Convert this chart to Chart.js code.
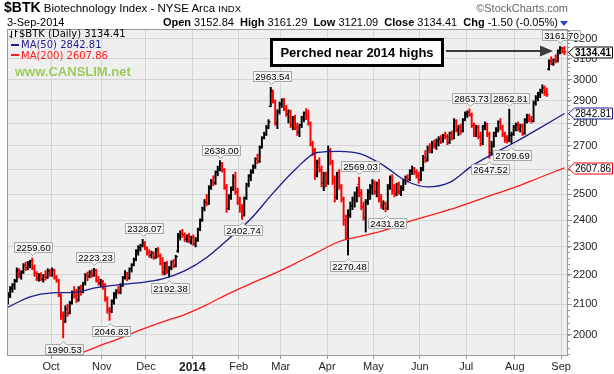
<!DOCTYPE html>
<html>
<head>
<meta charset="utf-8">
<script src="https://cdn.jsdelivr.net/npm/chart.js"></script>
<style>
body { margin: 0; background: #fff; font-family: "Liberation Sans", Arial, sans-serif; }
#wrap { position: relative; width: 614px; height: 374px; overflow: hidden; }
#chart { position: absolute; left: 0; top: 0; }
.t { position: absolute; white-space: nowrap; }
.lg { font-family: "DejaVu Sans", Verdana, sans-serif; font-size: 10px; line-height: 12px; }
</style>
</head>
<body>
<div id="wrap">
<canvas id="chart" width="614" height="374"></canvas>
<div class="t" style="left:4px;top:0px;font-size:11.5px;line-height:14px;color:#000"><b style="font-size:14px">$BTK</b> Biotechnology Index - NYSE Arca <span style="font-size:9.5px">INDX</span></div>
<div class="t" style="right:46px;top:2px;font-size:11px;line-height:13px;color:#666">&copy;StockCharts.com</div>
<div class="t" style="left:7px;top:16px;font-size:11px;line-height:13px">3-Sep-2014</div>
<div class="t" style="right:56px;top:16px;font-size:11px;line-height:13px"><b>Open</b> 3152.84&nbsp; <b>High</b> 3161.29&nbsp; <b>Low</b> 3121.09&nbsp; <b>Close</b> 3134.41&nbsp; <b>Chg</b> -1.50 (-0.05%)</div>
<div class="t" style="left:560px;top:21px;width:0;height:0;border-left:4px solid transparent;border-right:4px solid transparent;border-top:5px solid #2244dd"></div>
<div class="t lg" style="left:19px;top:28px;color:#000">$BTK (Daily) 3134.41</div>
<div class="t" style="left:11px;top:44px;width:8px;height:2px;background:#1c1c8c"></div>
<div class="t lg" style="left:21px;top:39px;color:#1c1c8c">MA(50) 2842.81</div>
<div class="t" style="left:11px;top:54px;width:8px;height:2px;background:#ff1a1a"></div>
<div class="t lg" style="left:21px;top:49.5px;color:#ff1a1a">MA(200) 2607.86</div>
<div class="t" style="left:15px;top:64px;font-size:13px;line-height:15px;font-weight:bold;color:#9ccc5a">www.CANSLIM.net</div>
<div class="t" style="left:270px;top:38px;width:174px;height:29px;box-sizing:border-box;border:3px solid #000;background:#fff;font-size:13px;font-weight:bold;display:flex;align-items:center;justify-content:center">Perched near 2014 highs</div>
</div>
<script>
// daily bars, 3-Sep-2013 .. 3-Sep-2014 (bar index 0..252)
var opens = [
 2105,2130,2152,2165,2180,2212,2200,2212,2232,2225,
 2240,2250,2225,2205,2188,2198,2185,2195,2192,2212,
 2200,2215,2190,2180,2128,2060,2045,2085,2072,2105,
 2140,2128,2115,2155,2142,2170,2198,2195,2210,2200,
 2215,2180,2172,2178,2160,2118,2080,2078,2110,2135,
 2145,2140,2165,2190,2205,2190,2222,2235,2255,2285,
 2298,2305,2315,2298,2280,2270,2278,2262,2290,2268,
 2240,2210,2240,2215,2225,2245,2232,2285,2340,2350,
 2345,2328,2340,2320,2335,2312,2325,2365,2400,2445,
 2470,2465,2530,2550,2545,2590,2605,2620,2600,2530,
 2445,2490,2520,2570,2510,2470,2445,2420,2485,2540,
 2575,2590,2612,2645,2635,2695,2735,2750,2780,2875,
 2945,2895,2800,2850,2885,2905,2865,2840,2850,2790,
 2820,2780,2760,2790,2825,2845,2830,2800,2710,2680,
 2580,2630,2600,2545,2580,2545,2680,2630,2560,2490,
 2570,2530,2480,2400,2330,2420,2455,2480,2500,2540,
 2505,2450,2410,2470,2510,2530,2545,2510,2540,2480,
 2455,2465,2445,2530,2565,2515,2500,2540,2510,2525,
 2555,2570,2560,2595,2605,2590,2575,2560,2600,2650,
 2640,2690,2680,2710,2700,2720,2730,2720,2745,2740,
 2715,2755,2735,2810,2770,2780,2765,2815,2840,2850,
 2835,2790,2750,2780,2740,2710,2785,2795,2750,2670,
 2700,2755,2770,2805,2780,2750,2730,2725,2745,2750,
 2780,2790,2775,2785,2755,2815,2830,2815,2810,2890,
 2915,2930,2945,2960,2940,3050,3088,3075,3095,3090,
 3140,3155,3152.84];
var highs = [
 2140,2160,2170,2185,2225,2222,2215,2240,2245,2248,
 2252,2259.6,2235,2212,2205,2208,2202,2215,2222,2220,
 2225,2220,2198,2185,2135,2075,2095,2100,2110,2145,
 2160,2150,2160,2165,2175,2205,2210,2215,2218,2223.23,
 2220,2195,2185,2182,2170,2125,2090,2115,2140,2150,
 2160,2170,2195,2215,2210,2225,2240,2260,2290,2305,
 2310,2328.07,2320,2300,2290,2285,2282,2295,2298,2275,
 2262,2245,2248,2230,2250,2255,2270,2350,2360,2365,
 2352,2345,2350,2340,2345,2335,2370,2405,2450,2480,
 2500,2535,2560,2575,2595,2615,2638,2630,2605,2540,
 2500,2530,2580,2590,2525,2490,2460,2490,2545,2580,
 2600,2620,2650,2665,2700,2740,2760,2790,2815,2963.54,
 2950,2905,2860,2895,2910,2912,2880,2860,2858,2830,
 2835,2800,2795,2830,2850,2865,2858,2805,2720,2690,
 2640,2650,2615,2590,2590,2700,2690,2640,2575,2590,
 2600,2540,2490,2420,2440,2470,2490,2510,2530,2569.03,
 2520,2470,2480,2520,2540,2560,2555,2550,2560,2500,
 2475,2470,2540,2575,2580,2540,2545,2550,2535,2560,
 2575,2580,2600,2615,2610,2600,2590,2610,2660,2680,
 2700,2710,2720,2725,2730,2740,2745,2750,2760,2750,
 2760,2765,2820,2815,2790,2795,2820,2850,2855,2863.73,
 2845,2800,2790,2790,2760,2790,2805,2800,2760,2720,
 2760,2780,2810,2820,2790,2760,2745,2862.81,2760,2790,
 2800,2805,2795,2795,2820,2840,2840,2830,2900,2925,
 2940,2955,2975,2970,2960,3095,3110,3100,3120,3145,
 3161.7,3158,3161.29];
var lows = [
 2100,2122,2140,2150,2175,2190,2185,2205,2215,2218,
 2225,2218,2195,2180,2178,2180,2175,2182,2188,2195,
 2195,2185,2175,2125,2050,1990.53,2040,2060,2068,2100,
 2120,2105,2110,2130,2138,2165,2180,2190,2192,2195,
 2175,2165,2160,2150,2110,2070,2046.83,2072,2100,2120,
 2135,2135,2160,2185,2180,2185,2210,2232,2250,2270,
 2285,2300,2290,2270,2262,2260,2255,2258,2262,2235,
 2200,2200,2205,2192.38,2218,2225,2228,2280,2325,2335,
 2320,2318,2315,2310,2305,2300,2320,2360,2395,2435,
 2455,2460,2520,2535,2540,2575,2595,2590,2520,2430,
 2440,2480,2515,2500,2460,2430,2402.74,2415,2480,2530,
 2555,2585,2605,2625,2630,2690,2730,2745,2775,2873,
 2890,2790,2775,2840,2870,2855,2830,2800,2780,2770,
 2770,2745,2740,2780,2805,2815,2790,2700,2660,2560,
 2570,2590,2530,2515,2530,2540,2620,2540,2470,2480,
 2520,2470,2380,2330,2270.48,2410,2440,2450,2470,2490,
 2440,2400,2355,2460,2480,2500,2500,2490,2470,2445,
 2440,2431.82,2440,2520,2500,2490,2495,2500,2495,2515,
 2540,2550,2555,2580,2580,2565,2545,2555,2595,2630,
 2635,2670,2670,2690,2685,2700,2710,2715,2730,2705,
 2710,2725,2730,2760,2745,2750,2760,2810,2825,2830,
 2780,2740,2740,2730,2700,2705,2770,2740,2647.52,2660,
 2695,2740,2760,2770,2740,2715,2712,2718,2709.69,2745,
 2765,2765,2760,2745,2750,2800,2805,2800,2805,2880,
 2900,2915,2935,2925,2920,3045,3070,3068,3080,3085,
 3125,3128,3121.09];
var closes = [
 2132,2155,2165,2178,2215,2198,2210,2235,2225,2242,
 2247,2228,2205,2190,2198,2185,2195,2190,2215,2200,
 2218,2192,2180,2130,2065,2040,2085,2070,2102,2140,
 2128,2115,2155,2140,2170,2198,2195,2210,2200,2215,
 2180,2172,2178,2160,2120,2080,2075,2110,2135,2145,
 2140,2165,2190,2205,2190,2220,2235,2255,2285,2298,
 2305,2315,2298,2280,2270,2278,2262,2290,2268,2240,
 2210,2240,2215,2225,2245,2232,2265,2340,2350,2345,
 2328,2340,2320,2335,2312,2325,2365,2400,2445,2470,
 2465,2530,2550,2545,2590,2605,2625,2600,2530,2445,
 2490,2520,2570,2510,2470,2445,2420,2485,2540,2575,
 2590,2612,2645,2635,2695,2735,2750,2780,2805,2950,
 2900,2800,2850,2885,2900,2865,2840,2850,2790,2820,
 2780,2760,2790,2825,2845,2830,2800,2710,2680,2580,
 2630,2600,2545,2580,2545,2680,2630,2560,2490,2570,
 2530,2480,2400,2350,2420,2455,2480,2500,2520,2505,
 2450,2410,2470,2510,2530,2545,2510,2540,2480,2455,
 2465,2445,2530,2565,2515,2500,2540,2510,2525,2555,
 2570,2560,2595,2605,2590,2575,2560,2600,2650,2640,
 2690,2680,2710,2700,2720,2730,2720,2745,2740,2715,
 2755,2735,2810,2770,2780,2765,2815,2840,2850,2835,
 2790,2750,2780,2740,2710,2785,2795,2750,2670,2700,
 2755,2770,2805,2780,2750,2730,2720,2745,2750,2780,
 2790,2775,2785,2755,2815,2830,2815,2810,2890,2915,
 2930,2945,2960,2940,2930,3088,3075,3095,3090,3140,
 3155,3135.91,3134.41];

// moving averages at a few bars
var ma50Idx = [0,10,20,30,40,50,60,70,80,90,100,110,120,130,140,150,160,170,180,190,200,210,220,230,240,252];
var ma50 = [2090,2125,2138,2140,2156,2166,2173,2186,2214,2262,2330,2405,2505,2600,2672,2677,2665,2618,2556,2530,2548,2615,2668,2718,2773,2842.81];
var ma200Idx = [30,40,50,60,70,80,90,100,110,120,130,140,150,160,170,180,190,200,210,220,230,240,252];
var ma200 = [1934,1962,1988,2016,2042,2066,2098,2136,2170,2203,2240,2280,2320,2340,2360,2390,2415,2440,2470,2500,2530,2565,2607.86];

// labelled swing highs / lows
var calloutIdx = [11,25,39,46,61,73,96,106,119,154,159,171,209,218,227,228,250];
var calloutVal = [2259.60,1990.53,2223.23,2046.83,2328.07,2192.38,2638.00,2402.74,2963.54,2270.48,2569.03,2431.82,2863.73,2647.52,2862.81,2709.69,3161.70];
var calloutPos = ['up','dn','up','dn','up','dn','up','dn','up','dn','up','dn','up','dn','up','dn','up'];

// axes
var monthIdx = [20,43,63,84,105,124,145,166,187,208,230,251];
var monthLabels = ['Oct','Nov','Dec','2014','Feb','Mar','Apr','May','Jun','Jul','Aug','Sep'];
var yTicks = [2000,2100,2200,2300,2400,2500,2600,2700,2800,2900,3000,3100,3200];

var lastClose = 3134.41, lastMa50 = 2842.81, lastMa200 = 2607.86;

var FONT = '"Liberation Sans", Arial, sans-serif';
var barColors = closes.map((c, i) => (i > 0 && c < closes[i - 1]) ? '#ff0000' : '#000000');
var idx = closes.map((c, i) => i);

function tag(ctx, py, txt, color, bold) {
    py = Math.round(py) + 0.5;
    ctx.beginPath();
    ctx.moveTo(568.5, py);
    ctx.lineTo(574.5, py - 5.5);
    ctx.lineTo(612.5, py - 5.5);
    ctx.lineTo(612.5, py + 5.5);
    ctx.lineTo(574.5, py + 5.5);
    ctx.closePath();
    ctx.fillStyle = '#fff';
    ctx.fill();
    ctx.strokeStyle = color;
    ctx.lineWidth = 1;
    ctx.stroke();
    ctx.fillStyle = '#000';
    ctx.font = (bold ? 'bold ' : '') + '10px ' + FONT;
    ctx.textAlign = 'left';
    ctx.textBaseline = 'middle';
    ctx.fillText(txt, 575, py + 0.5);
}

var overlay = {
    id: 'overlay',
    beforeDraw(chart) {
	const { ctx, chartArea: a } = chart;
	ctx.save();
	ctx.fillStyle = '#efefef';
	ctx.fillRect(a.left, a.top, a.right - a.left, a.bottom - a.top);
	ctx.restore();
    },
    afterDatasetsDraw(chart) {
	const { ctx, scales: { x, y } } = chart;
	ctx.save();
	ctx.font = '9.5px ' + FONT;
	ctx.textAlign = 'center';
	ctx.textBaseline = 'middle';
	calloutIdx.forEach((i, k) => {
	    const px = Math.round(x.getPixelForValue(i)) + 0.5;
	    const py = y.getPixelForValue(calloutVal[k]);
	    const txt = calloutVal[k].toFixed(2);
	    const w = Math.round(ctx.measureText(txt).width) + 4, h = 10;
	    const left = Math.round(px - w / 2) + 0.5;
	    const up = calloutPos[k] === 'up';
	    const top = up ? Math.round(py - 6 - h) + 0.5 : Math.round(py + 6) + 0.5;
	    ctx.beginPath();
	    if (up) {
		ctx.moveTo(left, top);
		ctx.lineTo(left + w, top);
		ctx.lineTo(left + w, top + h);
		ctx.lineTo(px + 3, top + h);
		ctx.lineTo(px, top + h + 3);
		ctx.lineTo(px - 3, top + h);
		ctx.lineTo(left, top + h);
	    } else {
		ctx.moveTo(left, top);
		ctx.lineTo(px - 3, top);
		ctx.lineTo(px, top - 3);
		ctx.lineTo(px + 3, top);
		ctx.lineTo(left + w, top);
		ctx.lineTo(left + w, top + h);
		ctx.lineTo(left, top + h);
	    }
	    ctx.closePath();
	    ctx.fillStyle = '#f5f5f5';
	    ctx.fill();
	    ctx.strokeStyle = '#a3aba3';
	    ctx.lineWidth = 1;
	    ctx.stroke();
	    ctx.fillStyle = '#000';
	    ctx.fillText(txt, left + w / 2, top + h / 2 + 0.5);
	});
	// arrow from the note box to the latest bars
	ctx.strokeStyle = '#3c3c3c';
	ctx.fillStyle = '#3c3c3c';
	ctx.lineWidth = 2;
	ctx.beginPath();
	ctx.moveTo(446, 51);
	ctx.lineTo(541, 51);
	ctx.stroke();
	ctx.beginPath();
	ctx.moveTo(540, 45.5);
	ctx.lineTo(553, 51);
	ctx.lineTo(540, 56.5);
	ctx.closePath();
	ctx.fill();
	// little ohlc icon for the legend
	ctx.strokeStyle = '#000';
	ctx.lineWidth = 1;
	ctx.beginPath();
	ctx.moveTo(11.5, 31); ctx.lineTo(11.5, 38);
	ctx.moveTo(9.5, 36.5); ctx.lineTo(11.5, 36.5);
	ctx.moveTo(15.5, 30); ctx.lineTo(15.5, 37);
	ctx.moveTo(15.5, 31.5); ctx.lineTo(17.5, 31.5);
	ctx.stroke();
	ctx.restore();
    },
    afterDraw(chart) {
	const { ctx, chartArea: a, scales: { y } } = chart;
	ctx.save();
	ctx.strokeStyle = '#999';
	ctx.lineWidth = 1;
	ctx.strokeRect(a.left + 0.5, a.top + 0.5, a.right - a.left - 1, a.bottom - a.top - 1);
	ctx.beginPath();
	for (let v = 1940; v <= 3240; v += 20) {
	    const py = Math.round(y.getPixelForValue(v)) + 0.5;
	    ctx.moveTo(a.right, py);
	    ctx.lineTo(a.right + 2, py);
	}
	ctx.stroke();
	tag(ctx, y.getPixelForValue(lastMa200), lastMa200.toFixed(2), '#ff0000', false);
	tag(ctx, y.getPixelForValue(lastMa50), lastMa50.toFixed(2), '#1c1c8c', false);
	tag(ctx, y.getPixelForValue(lastClose), lastClose.toFixed(2), '#000', true);
	ctx.restore();
    }
};

var ctx = document.getElementById('chart');
var chart = new Chart(ctx, {
    type: 'bar',
    data: {
	datasets: [{
	    type: 'line',
	    label: 'MA(50)',
	    data: ma50Idx.map((i, k) => ({ x: i, y: ma50[k] })),
	    borderColor: '#1c1c8c',
	    borderWidth: 1.3,
	    pointRadius: 0,
	    cubicInterpolationMode: 'monotone',
	    order: 0
	}, {
	    type: 'line',
	    label: 'MA(200)',
	    data: ma200Idx.map((i, k) => ({ x: i, y: ma200[k] })),
	    borderColor: '#ff1a1a',
	    borderWidth: 1.3,
	    pointRadius: 0,
	    cubicInterpolationMode: 'monotone',
	    order: 0
	}, {
	    type: 'bar',
	    label: 'range',
	    data: idx.map(i => ({ x: i, y: [lows[i], highs[i]] })),
	    backgroundColor: barColors,
	    borderWidth: 0,
	    barThickness: 1.3,
	    order: 1
	}, {
	    type: 'scatter',
	    label: 'open',
	    data: idx.map(i => ({ x: i - 0.45, y: opens[i] })),
	    pointStyle: 'line',
	    pointRadius: 1,
	    pointBorderColor: barColors,
	    pointBorderWidth: 1.2,
	    order: 1
	}, {
	    type: 'scatter',
	    label: 'close',
	    data: idx.map(i => ({ x: i + 0.45, y: closes[i] })),
	    pointStyle: 'line',
	    pointRadius: 1,
	    pointBorderColor: barColors,
	    pointBorderWidth: 1.2,
	    order: 1
	}]
    },
    options: {
	responsive: false,
	animation: false,
	events: [],
	layout: { padding: { left: 7, top: 29, right: 0, bottom: 0 } },
	plugins: { legend: { display: false }, tooltip: { enabled: false } },
	scales: {
	    x: {
		type: 'linear',
		offset: false,
		min: -0.43,
		max: 253.6,
		afterBuildTicks: s => { s.ticks = monthIdx.map(v => ({ value: v - 0.5 })); },
		afterFit: s => { s.height = 18; },
		ticks: {
		    autoSkip: false,
		    maxRotation: 0,
		    padding: 1,
		    color: '#222',
		    callback: (v, k) => monthLabels[k],
		    font: c => (monthLabels[c.index] === '2014'
				? { family: FONT, size: 12, weight: 'bold' }
				: { family: FONT, size: 11 })
		},
		grid: { offset: false, color: '#d4d4d4', tickLength: 3, tickColor: '#999' },
		border: { display: false }
	    },
	    y: {
		type: 'logarithmic',
		position: 'right',
		min: 1934.4,
		max: 3250.7,
		afterBuildTicks: s => { s.ticks = yTicks.map(v => ({ value: v })); },
		afterFit: s => { s.width = 46; },
		ticks: {
		    autoSkip: false,
		    padding: 1,
		    color: '#222',
		    font: { family: FONT, size: 11 },
		    callback: v => String(v)
		},
		grid: { color: '#d4d4d4', tickLength: 4, tickColor: '#999' },
		border: { display: false }
	    }
	}
    },
    plugins: [overlay]
});
</script>
</body>
</html>
